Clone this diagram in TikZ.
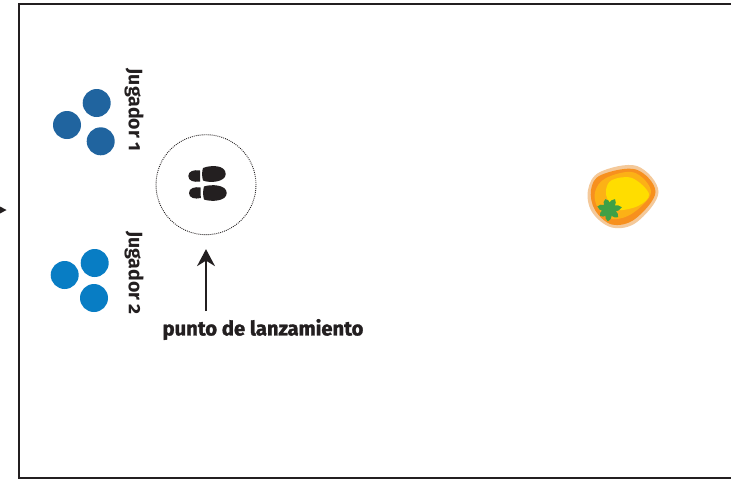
\documentclass[tikz,border=0pt]{standalone}
\usepackage{fontspec}
\setmainfont[Numbers=OldStyle]{Fira Sans}
\newfontfamily\gruesa[Numbers=OldStyle, BoldFeatures={FakeBold=1.5}]{Fira Sans}
\usetikzlibrary{arrows.meta, positioning}
\definecolor{tinta}{RGB}{35,31,32}
\definecolor{jugadoruno}{RGB}{32,100,159}
\definecolor{jugadordos}{RGB}{8,125,196}
\definecolor{islapalida}{RGB}{244,201,154}
\definecolor{islanaranja}{RGB}{247,144,30}
\definecolor{islaambar}{RGB}{252,177,22}
\definecolor{islaamarilla}{RGB}{255,221,0}
\definecolor{hoja}{RGB}{62,160,70}
\tikzset{
    ficha/.style={circle, inner sep=0pt, minimum size=28pt},
    rotulo/.style={font=\bfseries\fontsize{19.5}{22}\selectfont, text=tinta, inner sep=0pt},
}

\begin{document}
\begin{tikzpicture}[x=1pt, y=-1pt]
    \clip (0,0) rectangle (731,480);
    \fill[white] (0,0) rectangle (731,480);

    % Field
    \draw[tinta, line width=2.4pt] (740,4) -- (19,4) -- (19,478) -- (740,478);
    \fill[tinta] (0,206.5) -- (6.5,210) -- (0,213.5) -- cycle;

    % Player 1
    \node[ficha, fill=jugadoruno] (uno a) at (96.7,103) {};
    \node[ficha, fill=jugadoruno] (uno b) at (67,125) {};
    \node[ficha, fill=jugadoruno] (uno c) at (100.7,141.3) {};
    \node[rotulo, rotate=-90] (jugador uno) at (134,110) {Jugador 1};

    % Player 2
    \node[ficha, fill=jugadordos] (dos a) at (94.7,263) {};
    \node[ficha, fill=jugadordos] (dos b) at (64.7,275) {};
    \node[ficha, fill=jugadordos] (dos c) at (94,298) {};
    \node[rotulo, rotate=-90] (jugador dos) at (134,273) {Jugador 2};

    % Throwing point
    \node[circle, draw=tinta, dash pattern=on 0.9pt off 1.1pt, line width=0.9pt, inner sep=0pt, minimum size=100pt] (lanzamiento) at (206,184.7) {};
    \fill[tinta] (200,170.5) .. controls (194,169.5) and (188.3,171) .. (188.3,176)
        .. controls (188.3,181) and (194,182.5) .. (200,181.5) -- cycle;
    \fill[tinta] (203,168) .. controls (210,165) and (225.7,164.5) .. (225.7,174)
        .. controls (225.7,182) and (210,183.5) .. (203,180.5)
        .. controls (201.8,176) and (201.8,172) .. (203,168) -- cycle;
    \fill[tinta] (200.5,187.5) .. controls (195,186.5) and (189,188) .. (189,193)
        .. controls (189,198) and (195,199.5) .. (200.8,198) -- cycle;
    \fill[tinta] (204,186.5) .. controls (211,184) and (226.7,184.5) .. (226.7,193)
        .. controls (226.7,201.5) and (211,202) .. (204,199.5)
        .. controls (202.8,195) and (202.8,191) .. (204,186.5) -- cycle;

    % Arrow
    \node[rotulo, font=\gruesa\bfseries\fontsize{20.2}{23}\selectfont] (punto) at (263,329.5) {punto de lanzamiento};
    \coordinate (flecha) at (206,311);
    \draw[-{Stealth[length=17pt, width=18pt]}, tinta, line width=1.3pt, shorten >=14pt] (flecha) -- (lanzamiento.south);

    % Island
    \fill[islapalida] plot[smooth cycle, tension=0.6] coordinates {(588,190) (600,172) (637,166) (658.5,192) (637,222) (612,227.5) (592,212)};
    \fill[islanaranja] plot[smooth cycle, tension=0.6] coordinates {(591,190) (601,175) (636,169.5) (655.5,192) (635,219) (612,224.5) (595,210)};
    \fill[islaambar] plot[smooth cycle, tension=0.6] coordinates {(595,192) (606,178) (634,172.5) (651,192) (633,213) (612,219) (598,208)};
    \fill[islaamarilla] plot[smooth cycle, tension=0.6] coordinates {(606,190) (612,180) (632,178) (649,194) (638,206) (616,210) (608,200)};
    \foreach \ang/\lar in {10/12, 60/11, 110/10, 165/11, 215/10, 265/11, 320/11} {
        \fill[hoja, rotate around={\ang:(609,209.5)}] (609,209.5) .. controls (612,205.5) and (618,205) .. (609+\lar+1,209.5)
            .. controls (618,214) and (612,213.5) .. (609,209.5) -- cycle;
    }
\end{tikzpicture}
\end{document}
